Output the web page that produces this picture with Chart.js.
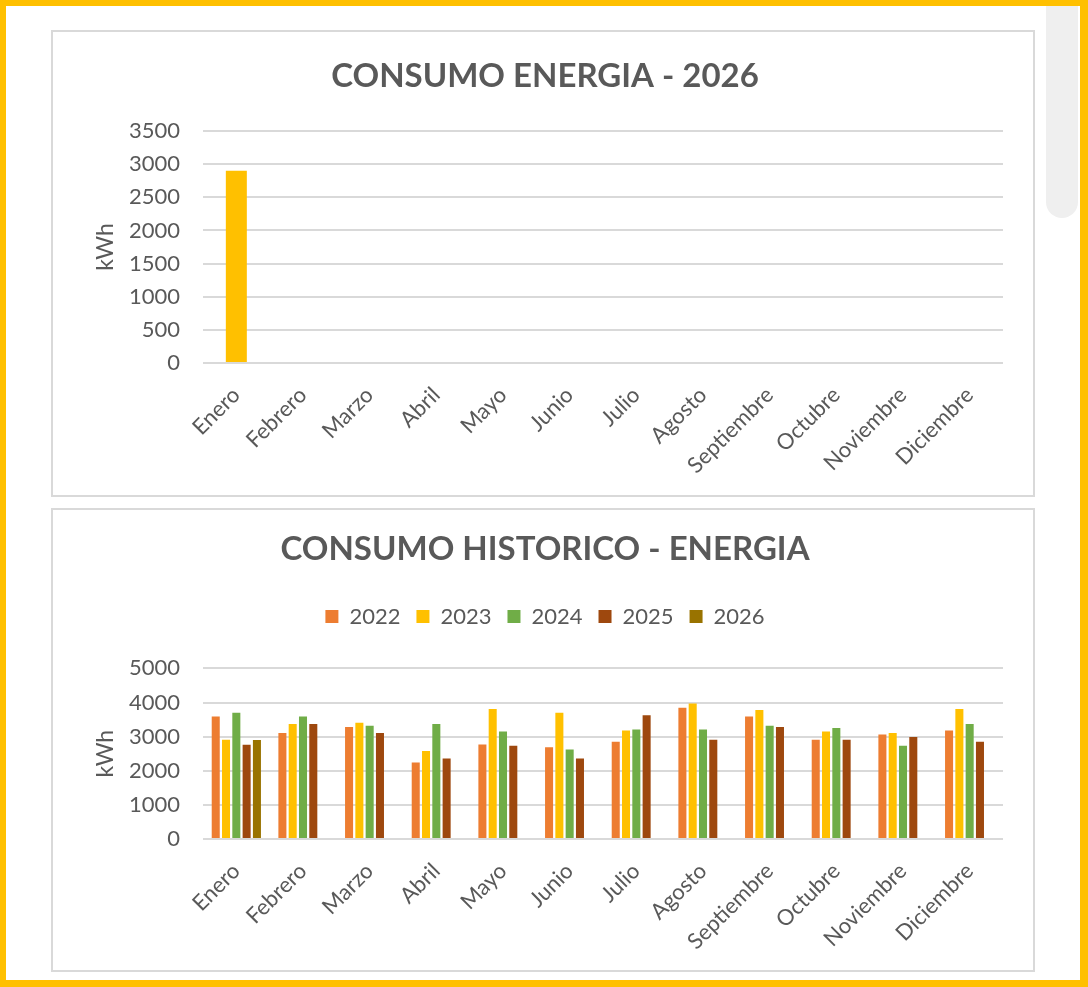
<!DOCTYPE html>
<html><head><meta charset="utf-8">
<script src="https://cdn.jsdelivr.net/npm/chart.js@4.4.1/dist/chart.umd.min.js"></script>
<style>
html,body{margin:0;padding:0;background:#fff;width:1088px;height:987px;overflow:hidden;}
#frame{position:absolute;left:0;top:0;width:1088px;height:987px;box-sizing:border-box;border-style:solid;border-color:#FFC000;border-width:6px 8px 7px 6px;background:#fff;}
.deco{position:absolute;background:#efefef;}
.panel{position:absolute;left:51px;width:980px;border:2px solid #d9d9d9;background:#fff;}
#p1{top:30px;height:463px;}
#p2{top:508px;height:460px;}
canvas{display:block;}
</style></head>
<body>
<div id="frame"></div>
<div class="deco" style="left:1046px;top:6px;width:32px;height:212px;border-radius:0 0 16px 16px;"></div>
<div class="panel" id="p1"><canvas id="c1" width="980" height="463"></canvas></div>
<div class="panel" id="p2"><canvas id="c2" width="980" height="460"></canvas></div>
<script>
const months = ['Enero','Febrero','Marzo','Abril','Mayo','Junio','Julio','Agosto','Septiembre','Octubre','Noviembre','Diciembre'];
const consumo2026 = [2900, null, null, null, null, null, null, null, null, null, null, null];
const hist2022 = [3590, 3110, 3280, 2240, 2770, 2690, 2850, 3850, 3590, 2910, 3060, 3180];
const hist2023 = [2910, 3370, 3410, 2580, 3810, 3700, 3180, 3970, 3780, 3150, 3110, 3810];
const hist2024 = [3700, 3590, 3320, 3370, 3150, 2620, 3210, 3210, 3320, 3250, 2730, 3370];
const hist2025 = [2760, 3370, 3110, 2360, 2730, 2360, 3630, 2910, 3280, 2910, 2990, 2850];
const hist2026 = [2900, null, null, null, null, null, null, null, null, null, null, null];
const seriesLabels = ['2022','2023','2024','2025','2026'];
const seriesColors = ['#ED7D31','#FFC000','#70AD47','#9E480E','#997300'];

const TXT = '#595959';
const FONT = 'Lato';
const PADL = 34;

function yScale(max, step) {
  return {
    min: 0, max: max,
    ticks: { stepSize: step, color: TXT, font: {family: FONT, size: 22}, padding: 23, callback: v => String(v) },
    grid: { color: '#d9d9d9', lineWidth: 2, drawTicks: false },
    border: { display: false },
    title: { display: true, text: 'kWh', color: TXT, font: {family: FONT, size: 23}, padding: {top: 5, bottom: 0} },
    afterFit(s) { s.width = 150 - PADL; }
  };
}
function xScale(h) {
  return {
    ticks: { color: TXT, font: {family: FONT, size: 22}, minRotation: 45, maxRotation: 45, autoSkip: false, padding: 19 },
    grid: { display: false, drawTicks: false },
    border: { display: false },
    afterFit(s) { s.height = h; }
  };
}

function build() {
  Chart.defaults.font.family = FONT;
  new Chart(document.getElementById('c1'), {
    type: 'bar',
    data: { labels: months, datasets: [{ label: '2026', data: consumo2026, backgroundColor: '#FFC000', categoryPercentage: 0.315, barPercentage: 1 }] },
    options: {
      responsive: false, animation: false,
      layout: { padding: { left: PADL, right: 30, top: 0, bottom: 0 } },
      plugins: {
        legend: { display: false },
        tooltip: { enabled: false },
        title: { display: true, text: 'CONSUMO ENERGIA - 2026', color: TXT, font: {family: FONT, size: 33, weight: 'bold'}, padding: {top: 25, bottom: 34.4} }
      },
      scales: { x: xScale(132), y: yScale(3500, 500) }
    }
  });
  const hist = [hist2022, hist2023, hist2024, hist2025, hist2026];
  new Chart(document.getElementById('c2'), {
    type: 'bar',
    data: { labels: months, datasets: hist.map((d, i) => ({ label: seriesLabels[i], data: d, backgroundColor: seriesColors[i], categoryPercentage: 0.7725, barPercentage: 0.78 })) },
    options: {
      responsive: false, animation: false,
      layout: { padding: { left: PADL, right: 30, top: 0, bottom: 0 } },
      plugins: {
        tooltip: { enabled: false },
        title: { display: true, text: 'CONSUMO HISTORICO - ENERGIA', color: TXT, font: {family: FONT, size: 33, weight: 'bold'}, padding: {top: 20, bottom: 20} },
        subtitle: { display: true, text: '', weight: 500, position: 'top', font: {size: 10, lineHeight: 1}, padding: {top: 20.8, bottom: 0} },
        legend: { display: true, position: 'top', labels: { color: TXT, font: {family: FONT, size: 22}, boxWidth: 13, boxHeight: 13, padding: 16 } }
      },
      scales: { x: xScale(131), y: yScale(5000, 1000) }
    }
  });
}
Promise.all([document.fonts.load('22px Lato'), document.fonts.load('bold 33px Lato')]).then(build, build);
</script>
</body></html>
